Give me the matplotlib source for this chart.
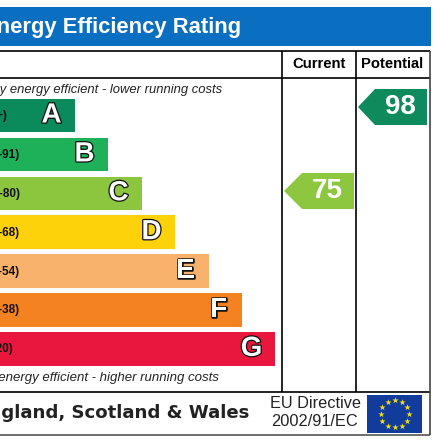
import numpy as np
import matplotlib
matplotlib.use("Agg")
import matplotlib.pyplot as plt
import matplotlib.patheffects as pe
from matplotlib.patches import Polygon, Rectangle

bands = ["A", "B", "C", "D", "E", "F", "G"]
band_ranges = ["(92+)", "(81-91)", "(69-80)", "(55-68)", "(39-54)", "(21-38)", "(1-20)"]
band_lengths = [75, 108, 142, 175, 209, 242, 275]
band_colors = ["#0b8a5b", "#1fb05a", "#8cc63f", "#fdd20a", "#f9b26b", "#f58220", "#e9173e"]
current_score = "75"
potential_score = "98"

SANS = "Liberation Sans"

fig = plt.figure(figsize=(4.4, 4.4), dpi=100)
ax = fig.add_axes([0, 0, 1, 1])
ax.set_xlim(0, 440)
ax.set_ylim(440, 0)
ax.axis("off")

# header band
ax.add_patch(Rectangle((0, 7), 431, 39, color="#0a6fc0", lw=0))
ax.text(241, 27, "Energy Efficiency Rating", ha="right", va="center", color="white",
        family=SANS, weight="bold", fontsize=15.8, clip_on=True)

# table lines
for y, color in [(51, "black"), (78, "black"), (392, "black"), (435, "#555555")]:
    ax.plot([0, 430], [y, y], color=color, lw=1.2, solid_capstyle="butt")
for x, color in [(282, "black"), (356, "black"), (430, "#444444")]:
    y1 = 435 if x == 430 else 392
    ax.plot([x, x], [51, y1], color=color, lw=1.2, solid_capstyle="butt")

ax.text(319.5, 64.5, "Current", ha="center", va="center", family=SANS, weight="bold", fontsize=10.7)
ax.text(392.5, 64.5, "Potential", ha="center", va="center", family=SANS, weight="bold", fontsize=10.6)

ax.text(222, 89.5, "Very energy efficient - lower running costs", ha="right", va="center",
        family=SANS, style="italic", fontsize=9.4, color="#222222", clip_on=True)
ax.text(219, 378.5, "Not energy efficient - higher running costs", ha="right", va="center",
        family=SANS, style="italic", fontsize=9.5, color="#222222", clip_on=True)

# rating bars
y_pos = 115.5 + 38.9 * np.arange(len(bands))
ax.barh(y_pos, band_lengths, height=33.5, color=band_colors, lw=0)

outline = [pe.withStroke(linewidth=1.8, foreground="#111111")]
for i, band in enumerate(bands):
    ax.text(band_lengths[i] - 23.5, y_pos[i], band, ha="center", va="center", color="white",
            family=SANS, weight="bold", fontsize=20, path_effects=outline)
    right = 7 if i == 0 else (13 if i == 6 else 20)
    ax.text(right, y_pos[i] + 0.5, band_ranges[i], ha="right", va="center", color="#111111",
            family=SANS, weight="bold", fontsize=8.5, clip_on=True)


def arrow(tip, shoulder, right, top, bottom, color, label):
    mid = (top + bottom) / 2
    ax.add_patch(Polygon([(tip, mid), (shoulder, top), (right, top), (right, bottom), (shoulder, bottom)],
                         closed=True, color=color, lw=0))
    ax.text((shoulder + right) / 2 - 1, mid, label, ha="center", va="center", color="white",
            family=SANS, weight="bold", fontsize=20)


arrow(358, 375, 427, 89, 125, "#0e8a5c", potential_score)
arrow(284, 302, 354, 173, 209, "#8dc63f", current_score)

# footer
ax.text(249, 412.5, "England, Scotland & Wales", ha="right", va="center", color="#222222",
        family="DejaVu Sans", weight="bold", fontsize=13.1, clip_on=True)
ax.text(315, 404, "EU Directive", ha="center", va="center", family=SANS, fontsize=11.7, color="#222222")
ax.text(315, 422, "2002/91/EC", ha="center", va="center", family=SANS, fontsize=11.8, color="#222222")

# EU flag
ax.add_patch(Rectangle((367, 395), 55, 38, color="#123c9c", lw=0))
angles = np.deg2rad(np.arange(0, 360, 30))
ax.scatter(394.5 + 14 * np.cos(angles), 414 + 13.5 * np.sin(angles), marker="*", s=22,
           color="#f5e11b", lw=0)

fig.savefig("out.png", dpi=100)
